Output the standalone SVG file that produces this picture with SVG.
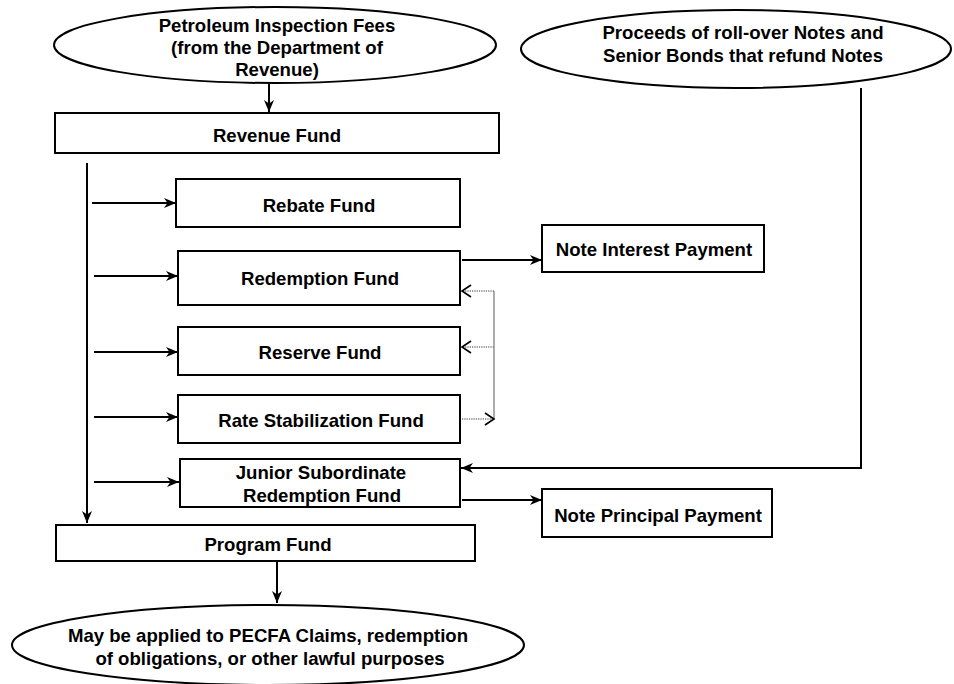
<svg xmlns="http://www.w3.org/2000/svg" width="954" height="684" viewBox="0 0 954 684">
<defs>
<style>
.box{fill:#fff;stroke:#000;stroke-width:2}
.ell{fill:#fff;stroke:#000;stroke-width:2}
.t{font-family:"Liberation Sans",Arial,sans-serif;font-weight:bold;font-size:18.6px;fill:#000;text-anchor:middle}
.c{fill:none;stroke:#000;stroke-width:2}
.d{fill:none;stroke:#808080;stroke-width:1.3;stroke-dasharray:1.3 1}
.g{fill:none;stroke:#808080;stroke-width:1.3}
</style>
<marker id="ah" markerUnits="userSpaceOnUse" markerWidth="13" markerHeight="11" viewBox="0 0 13 11" refX="12" refY="5.5" orient="auto">
<path d="M0,0.5 L12,5.5 L0,10.5 L3.5,5.5 Z" fill="#000"/>
</marker>
<marker id="oh" markerUnits="userSpaceOnUse" markerWidth="12" markerHeight="14" viewBox="0 0 12 14" refX="10" refY="7" orient="auto">
<path d="M1,1 L10,7 L1,13" fill="none" stroke="#000" stroke-width="1.6"/>
</marker>
</defs>
<rect width="954" height="684" fill="#fff"/>

<g id="connectors">
<line class="c" x1="269" y1="84" x2="269" y2="112" marker-end="url(#ah)"/>
<line class="c" x1="87" y1="163" x2="87" y2="523" marker-end="url(#ah)"/>
<line class="c" x1="92" y1="203" x2="176" y2="203" marker-end="url(#ah)"/>
<line class="c" x1="94" y1="276" x2="178" y2="276" marker-end="url(#ah)"/>
<line class="c" x1="94" y1="352" x2="178" y2="352" marker-end="url(#ah)"/>
<line class="c" x1="94" y1="417" x2="178" y2="417" marker-end="url(#ah)"/>
<line class="c" x1="94" y1="482" x2="179" y2="482" marker-end="url(#ah)"/>
<line class="c" x1="462" y1="260" x2="542" y2="260" marker-end="url(#ah)"/>
<line class="c" x1="462" y1="500" x2="542" y2="500" marker-end="url(#ah)"/>
<polyline class="c" points="861,88 861,468 461,468" marker-end="url(#ah)"/>
<line class="c" x1="277" y1="562" x2="277" y2="603" marker-end="url(#ah)"/>
<line class="g" x1="494" y1="291" x2="494" y2="419"/>
<line class="d" x1="494" y1="291" x2="462" y2="291" marker-end="url(#oh)"/>
<line class="d" x1="494" y1="347" x2="462" y2="347" marker-end="url(#oh)"/>
<line class="d" x1="462" y1="419" x2="494" y2="419" marker-end="url(#oh)"/>
</g>

<g id="petroleum-fees">
<ellipse class="ell" cx="275" cy="45" rx="221" ry="38"/>
<text class="t" x="277" y="32">Petroleum Inspection Fees</text>
<text class="t" x="277" y="54">(from the Department of</text>
<text class="t" x="277" y="76">Revenue)</text>
</g>

<g id="proceeds">
<ellipse class="ell" cx="736" cy="49" rx="215" ry="39"/>
<text class="t" x="743" y="39">Proceeds of roll-over Notes and</text>
<text class="t" x="743" y="62">Senior Bonds that refund Notes</text>
</g>

<g id="revenue-fund">
<rect class="box" x="55" y="113" width="444" height="40"/>
<text class="t" x="277" y="142">Revenue Fund</text>
</g>

<g id="rebate-fund">
<rect class="box" x="176" y="179" width="284" height="48"/>
<text class="t" x="319" y="212">Rebate Fund</text>
</g>

<g id="redemption-fund">
<rect class="box" x="178" y="251" width="282" height="54"/>
<text class="t" x="320" y="285">Redemption Fund</text>
</g>

<g id="reserve-fund">
<rect class="box" x="178" y="327" width="282" height="48"/>
<text class="t" x="320" y="359">Reserve Fund</text>
</g>

<g id="rate-stabilization-fund">
<rect class="box" x="178" y="395" width="282" height="48"/>
<text class="t" x="321" y="427">Rate Stabilization Fund</text>
</g>

<g id="junior-subordinate">
<rect class="box" x="180" y="459" width="280" height="48"/>
<text class="t" x="321" y="479">Junior Subordinate</text>
<text class="t" x="322" y="502">Redemption Fund</text>
</g>

<g id="note-interest">
<rect class="box" x="542" y="225" width="222" height="47"/>
<text class="t" x="654" y="256">Note Interest Payment</text>
</g>

<g id="note-principal">
<rect class="box" x="542" y="489" width="230" height="48"/>
<text class="t" x="658" y="522">Note Principal Payment</text>
</g>

<g id="program-fund">
<rect class="box" x="56" y="525" width="419" height="36"/>
<text class="t" x="268" y="551">Program Fund</text>
</g>

<g id="applied">
<ellipse class="ell" cx="268" cy="645" rx="256" ry="40"/>
<text class="t" x="268" y="642">May be applied to PECFA Claims, redemption</text>
<text class="t" x="270" y="665">of obligations, or other lawful purposes</text>
</g>
</svg>
